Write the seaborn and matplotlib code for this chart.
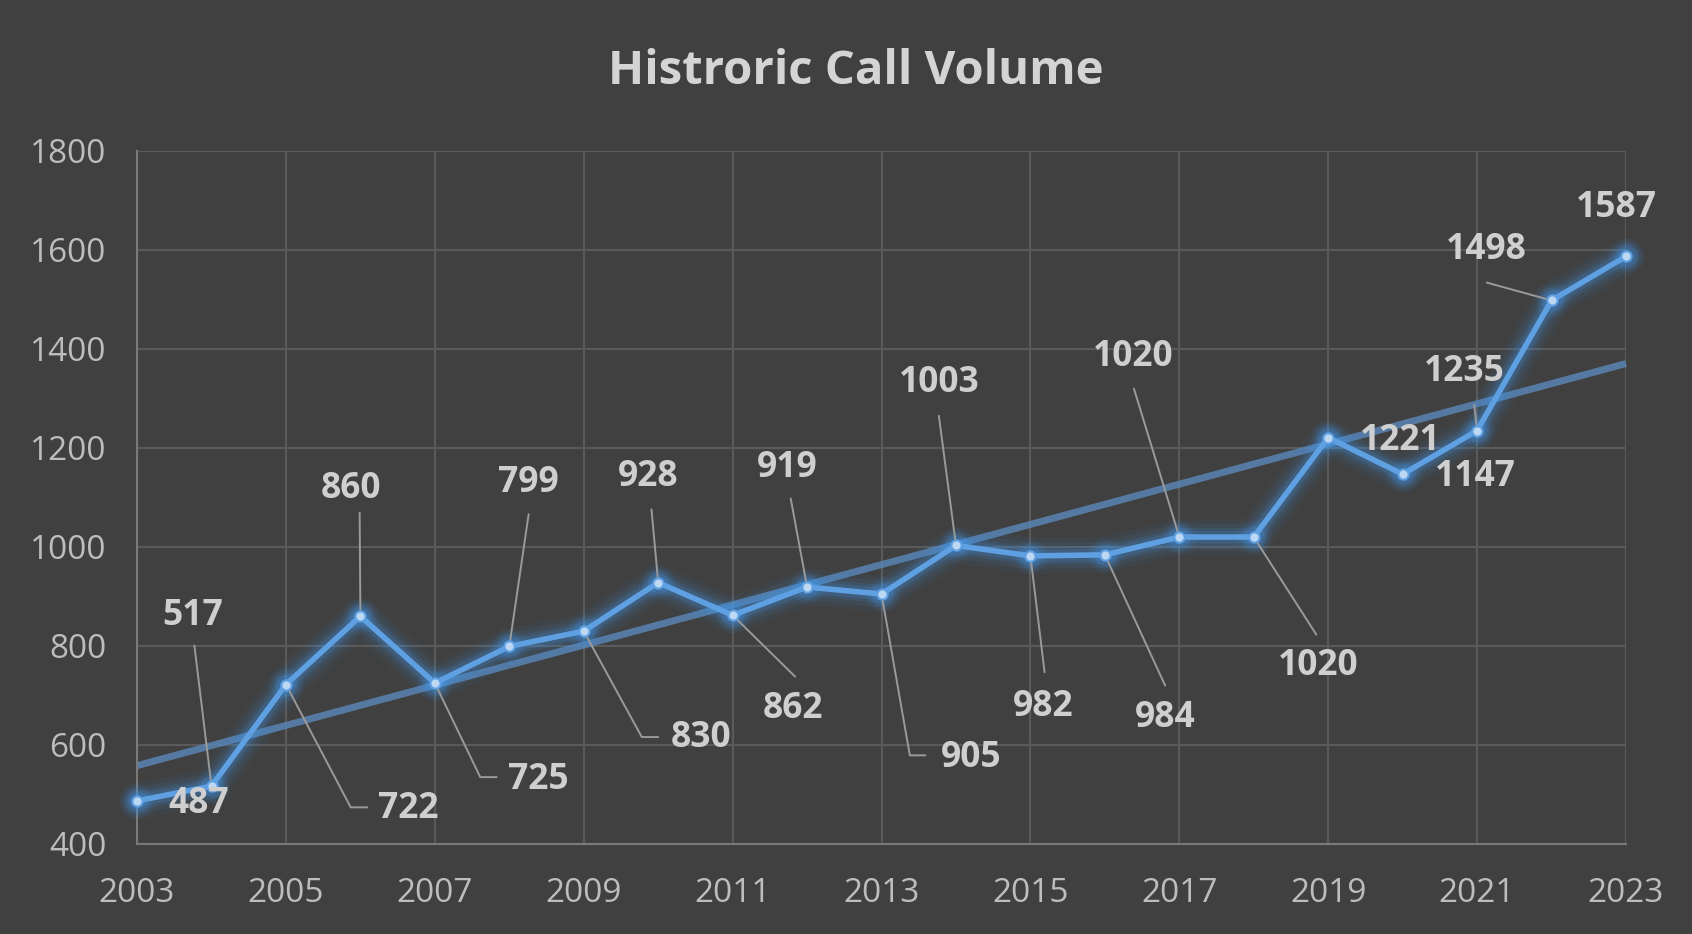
import numpy as np
import pandas as pd
import matplotlib
matplotlib.use("Agg")
import matplotlib.pyplot as plt
import seaborn as sns

# data
years = list(range(2003, 2024))
calls = [487, 517, 722, 860, 725, 799, 830, 928, 862, 919, 905,
         1003, 982, 984, 1020, 1020, 1221, 1147, 1235, 1498, 1587]
x_ticks = list(range(2003, 2024, 2))
y_ticks = list(range(400, 1801, 200))
title = "Histroric Call Volume"

# label placement (data coords) and leader paths, excel style
label_pos = {
    2003: (2003.83, 481, []),
    2004: (2003.74, 860, [(2003.77, 801)]),
    2005: (2006.64, 470, [(2005.87, 474), (2006.09, 474)]),
    2006: (2005.87, 1117, [(2005.99, 1069)]),
    2007: (2008.39, 529, [(2007.61, 535), (2007.83, 535)]),
    2008: (2008.25, 1130, [(2008.26, 1066)]),
    2009: (2010.58, 614, [(2009.78, 616), (2010.0, 616)]),
    2010: (2009.87, 1141, [(2009.91, 1076)]),
    2011: (2011.81, 672, [(2011.84, 738)]),
    2012: (2011.74, 1159, [(2011.78, 1098)]),
    2013: (2014.2, 574, [(2013.38, 579), (2013.59, 579)]),
    2014: (2013.78, 1331, [(2013.77, 1265)]),
    2015: (2015.17, 677, [(2015.19, 747)]),
    2016: (2016.81, 655, [(2016.81, 720)]),
    2017: (2016.38, 1383, [(2016.39, 1320)]),
    2018: (2018.86, 760, [(2018.84, 823)]),
    2019: (2019.97, 1215, []),
    2020: (2020.97, 1141, []),
    2021: (2020.83, 1353, [(2020.96, 1287)]),
    2022: (2021.12, 1599, [(2021.13, 1534)]),
    2023: (2022.87, 1684, []),
}

df = pd.DataFrame({"year": years, "calls": calls})

bg = "#404040"
sns.set_style("dark", {"axes.facecolor": bg, "figure.facecolor": bg})
plt.rcParams["font.family"] = ["Open Sans", "DejaVu Sans"]

fig = plt.figure(figsize=(16.92, 9.34), dpi=100)
ax = fig.add_axes([0.081, 0.0964, 0.880, 0.742])

# trendline
coef = np.polyfit(df["year"], df["calls"], 1)
tx = np.array([2003, 2023])
ax.plot(tx, np.polyval(coef, tx), color="#5b88ba", lw=5, alpha=0.8,
        solid_capstyle="butt", zorder=2, clip_on=False)

# glow
for lw, a in [(26, 0.05), (19, 0.08), (13, 0.12), (9, 0.16)]:
    ax.plot(df["year"], df["calls"], color="#3f9af0", lw=lw, alpha=a,
            solid_joinstyle="round", solid_capstyle="round", zorder=3, clip_on=False)
    ax.scatter(df["year"], df["calls"], s=lw * 25, color="#3f9af0", alpha=a,
               lw=0, zorder=3, clip_on=False)

sns.lineplot(data=df, x="year", y="calls", ax=ax, color="#5fa0e2", lw=4,
             zorder=4, clip_on=False)
ax.scatter(df["year"], df["calls"], s=55, facecolor="#bcd8f3",
           edgecolor="#5fa0e2", lw=1.5, zorder=5, clip_on=False)

# data labels with leader lines
for yr, val in zip(years, calls):
    lx, ly, path = label_pos[yr]
    if path:
        xs = [yr] + [p[0] for p in path]
        ys = [val] + [p[1] for p in path]
        ax.plot(xs, ys, color="#9a9a9a", lw=1.4, zorder=3.5)
    ax.text(lx, ly, str(val), ha="center", va="center", fontsize=25.5,
            fontweight="bold", color="#cfcfcf", zorder=6)

ax.set_xlim(2003, 2023)
ax.set_ylim(400, 1800)
ax.set_xticks(x_ticks)
ax.set_yticks(y_ticks)
ax.set_xlabel("")
ax.set_ylabel("")
ax.grid(True, color="#5a5a5a", lw=1.5)
ax.tick_params(axis="x", pad=24, labelsize=24, colors="#bdbdbd", length=0)
ax.tick_params(axis="y", pad=22, labelsize=24, colors="#bdbdbd", length=0)
for s in ["top", "right"]:
    ax.spines[s].set_visible(False)
for s in ["left", "bottom"]:
    ax.spines[s].set_visible(True)
    ax.spines[s].set_color("#7a7a7a")
    ax.spines[s].set_linewidth(1.5)

fig.text(0.506, 0.923, title, ha="center", va="center", fontsize=34,
         fontweight="bold", color="#d4d4d4")

fig.savefig("out.png", dpi=100, facecolor=bg)
